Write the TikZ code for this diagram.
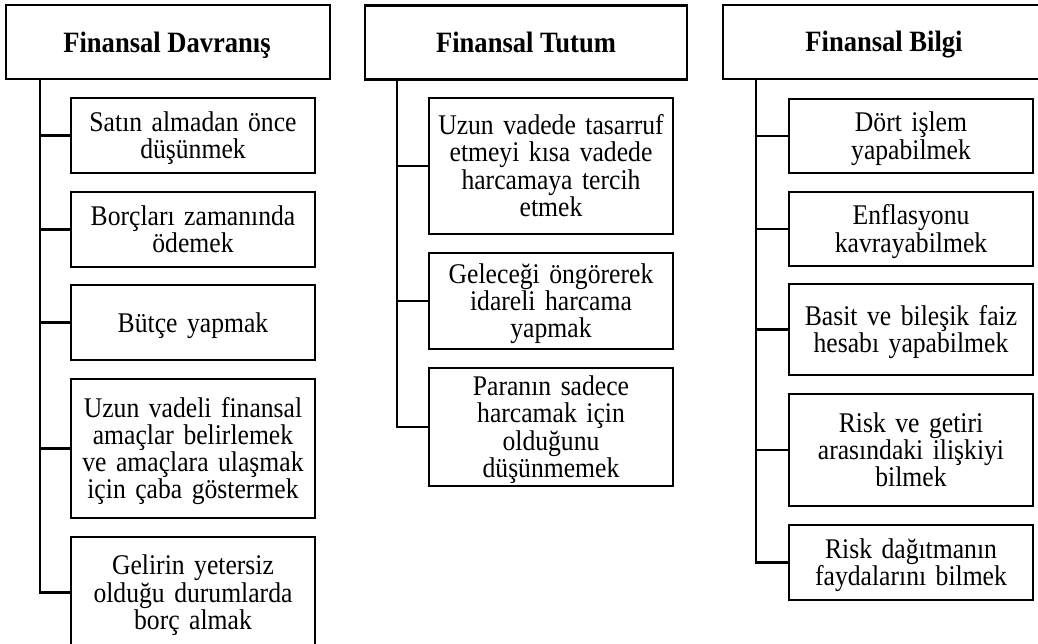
\documentclass[tikz,border=0pt]{standalone}
\usepackage{fontspec}
\setmainfont{Liberation Serif}[FakeStretch=0.9]
\newcommand\firstl[1]{\rule{0pt}{19pt}\smash{#1}}
\newcommand\nextl[1]{\smash{#1}}
\begin{document}
\begin{tikzpicture}[x=1pt,y=-1pt,
  line width=2.7pt,
  headbox/.style={draw, rectangle, inner sep=0pt, minimum width=324pt, minimum height=74pt},
  headtext/.style={inner sep=0pt, anchor=base, font=\fontsize{29.5}{30}\selectfont\bfseries},
  itembox/.style={draw, rectangle, inner sep=0pt, minimum width=244pt,
     text width=242pt, font=\fontsize{28.5}{27.3}\selectfont, align=center},
  itemtext/.style={inner sep=0pt, text width=242pt, font=\fontsize{28.5}{27.3}\selectfont, align=center},
  link/.style={draw, line width=2.7pt}]
\useasboundingbox (0,0) rectangle (1038,644);
\clip (0,0) rectangle (1038,644);
% headers
\node[headbox] (h1) at (168,42) {};
\node[headtext] (h1t) at (167,53) {Finansal Davranış};
\node[headbox, minimum width=322pt] (h2) at (526,42.5) {};
\node[headtext] (h2t) at (526,52.5) {Finansal Tutum};
\node[headbox, minimum width=322pt] (h3) at (884,42) {};
\node[headtext] (h3t) at (884,51.5) {Finansal Bilgi};
% trunk coordinates
\coordinate (t1) at (40,79);
\coordinate (t2) at (397,79.5);
\coordinate (t3) at (756,79);
% column 1
\node[itembox, minimum height=75pt] (a1) at (193,135.5) {\firstl{Satın almadan önce}\\\nextl{düşünmek}};
\node[itembox, minimum height=75pt] (a2) at (193,229.5) {\firstl{Borçları zamanında}\\\nextl{ödemek}};
\node[itembox, minimum height=75pt] (a3) at (193,322.5) {\firstl{Bütçe yapmak}};
\node[itembox, minimum height=139pt] (a4) at (193,448.5) {\firstl{Uzun vadeli finansal}\\\nextl{amaçlar belirlemek}\\\nextl{ve amaçlara ulaşmak}\\\nextl{için çaba göstermek}};
\node[itembox, minimum height=114pt] (a5) at (193,594) {};
\node[itemtext] (a5t) at (193,592.5) {\firstl{Gelirin yetersiz}\\\nextl{olduğu durumlarda}\\\nextl{borç almak}};
% column 2
\node[itembox, minimum height=136pt] (b1) at (551,166) {\firstl{Uzun vadede tasarruf}\\\nextl{etmeyi kısa vadede}\\\nextl{harcamaya tercih}\\\nextl{etmek}};
\node[itembox, minimum height=96pt] (b2) at (551,301) {\firstl{Geleceği öngörerek}\\\nextl{idareli harcama}\\\nextl{yapmak}};
\node[itembox, minimum height=118pt] (b3) at (551,427) {\firstl{Paranın sadece}\\\nextl{harcamak için}\\\nextl{olduğunu}\\\nextl{düşünmemek}};
% column 3
\node[itembox, minimum height=74pt] (c1) at (911,136) {\firstl{Dört işlem}\\\nextl{yapabilmek}};
\node[itembox, minimum height=74pt] (c2) at (911,229) {\firstl{Enflasyonu}\\\nextl{kavrayabilmek}};
\node[itembox, minimum height=91pt] (c3) at (911,329.5) {\firstl{Basit ve bileşik faiz}\\\nextl{hesabı yapabilmek}};
\node[itembox, minimum height=112pt] (c4) at (911,450) {\firstl{Risk ve getiri}\\\nextl{arasındaki ilişkiyi}\\\nextl{bilmek}};
\node[itembox, minimum height=75pt] (c5) at (911,562.5) {\firstl{Risk dağıtmanın}\\\nextl{faydalarını bilmek}};
% connectors
\draw[link] (t1) |- (a5.west |- a5t.center);
\foreach \n in {a1,a2,a3,a4} \draw[link] (\n.west) -- (\n.west -| t1);
\draw[link] (t2) |- (b3.west);
\foreach \n in {b1,b2} \draw[link] (\n.west) -- (\n.west -| t2);
\draw[link] (t3) |- (c5.west);
\foreach \n in {c1,c2,c3,c4} \draw[link] (\n.west) -- (\n.west -| t3);
\end{tikzpicture}
\end{document}
